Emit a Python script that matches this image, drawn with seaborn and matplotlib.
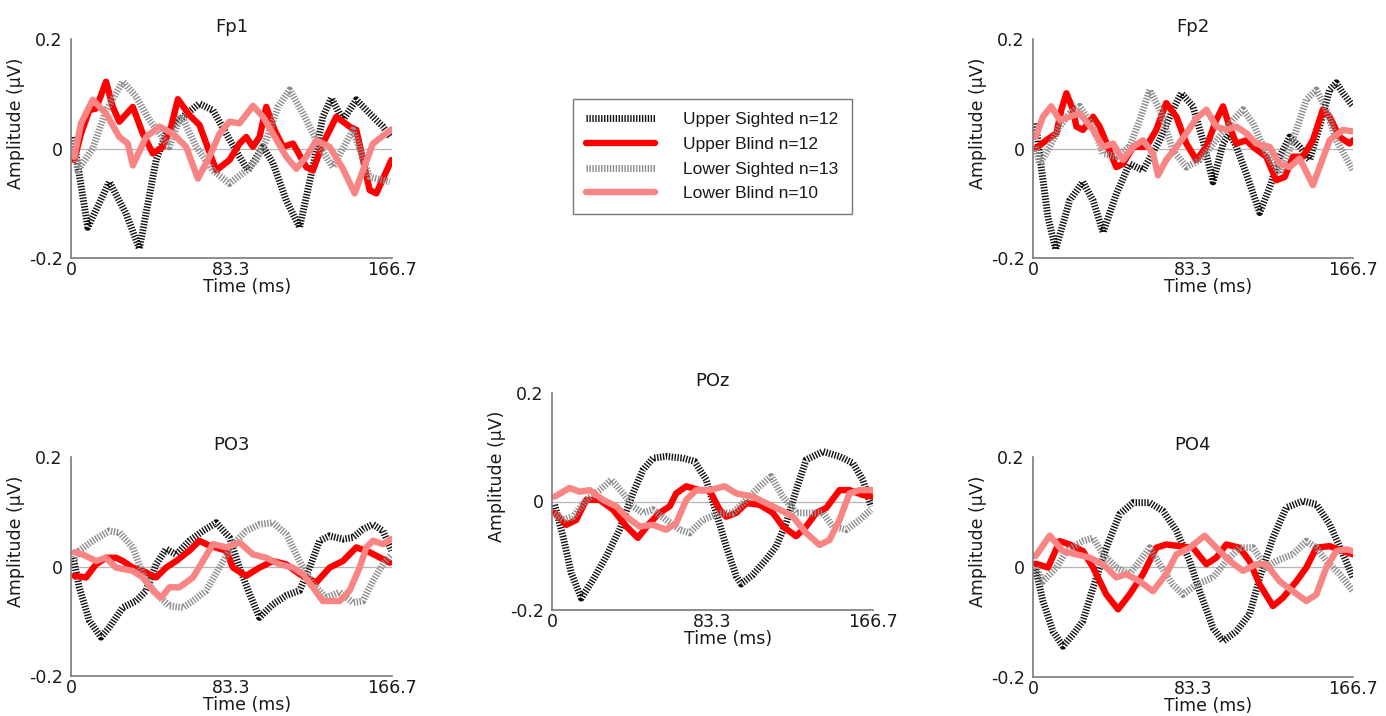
import matplotlib
matplotlib.use("Agg")
import matplotlib.pyplot as plt
from matplotlib.lines import Line2D
import seaborn as sns

# ---------------- data (time in ms, amplitude in microvolts) ----------------
# Fp1
FP1_US_T = [1.2, 8.7, 19.9, 28.6, 35.5, 44.2, 49.4, 58.1, 66.7, 73.7, 80.6, 87.5, 91.9, 99.7, 104.9, 111.8, 118.7, 125.6, 130.8, 135.2, 141.2, 148.2, 155.1, 162.0, 165.9]
FP1_US_V = [0.021, -0.144, -0.061, -0.119, -0.183, -0.021, 0.027, 0.058, 0.082, 0.070, 0.027, -0.015, -0.040, 0.003, -0.027, -0.095, -0.144, -0.034, 0.058, 0.092, 0.052, 0.089, 0.064, 0.040, 0.021]
FP1_UB_T = [1.7, 5.2, 9.5, 13.0, 18.2, 21.7, 25.1, 32.1, 37.3, 42.5, 47.7, 52.0, 55.5, 61.5, 66.7, 75.4, 82.3, 87.5, 91.0, 94.5, 97.9, 101.4, 105.7, 110.1, 115.3, 122.2, 125.6, 130.8, 137.8, 144.7, 148.2, 155.1, 158.6, 166.4]
FP1_UB_V = [-0.021, 0.027, 0.070, 0.073, 0.122, 0.076, 0.049, 0.076, 0.027, -0.009, 0.003, 0.040, 0.090, 0.061, 0.043, -0.040, -0.021, 0.009, 0.021, 0.003, 0.021, 0.076, 0.034, 0.003, 0.009, -0.034, -0.040, 0.009, 0.058, 0.040, 0.034, -0.076, -0.082, -0.021]
FP1_LS_T = [1.2, 3.5, 11.3, 18.2, 26.9, 33.8, 40.7, 51.1, 57.2, 65.0, 73.7, 82.3, 91.0, 96.2, 101.4, 107.5, 113.5, 120.5, 129.1, 136.0, 146.4, 155.1, 165.5]
FP1_LS_V = [0.015, -0.040, 0.000, 0.070, 0.122, 0.095, 0.052, 0.003, 0.061, 0.003, -0.040, -0.064, -0.040, -0.021, 0.015, 0.076, 0.107, 0.064, 0.003, -0.034, 0.034, -0.052, -0.061]
FP1_LB_T = [1.7, 5.2, 11.3, 18.2, 25.1, 29.5, 32.1, 39.0, 45.9, 52.9, 59.8, 65.9, 71.9, 77.1, 82.3, 87.5, 94.5, 99.7, 104.9, 111.8, 117.0, 122.2, 127.4, 134.3, 141.2, 147.3, 151.6, 156.8, 166.4]
FP1_LB_V = [-0.015, 0.046, 0.089, 0.064, 0.021, 0.009, -0.031, 0.021, 0.040, 0.027, 0.003, -0.055, -0.015, 0.027, 0.049, 0.046, 0.078, 0.058, 0.027, -0.015, -0.037, -0.015, 0.015, 0.003, -0.037, -0.082, -0.040, 0.009, 0.035]

# Fp2
FP2_US_T = [1.4, 4.3, 7.8, 11.8, 19.1, 26.0, 31.3, 36.5, 43.4, 50.3, 57.3, 66.0, 72.9, 77.3, 83.3, 88.5, 93.8, 99.0, 102.4, 105.9, 111.1, 118.1, 123.3, 128.5, 133.7, 138.9, 144.1, 149.3, 154.5, 158.0, 161.5, 166.7]
FP2_US_V = [0.046, -0.034, -0.126, -0.184, -0.095, -0.061, -0.095, -0.153, -0.083, -0.028, -0.040, 0.015, 0.071, 0.101, 0.077, 0.015, -0.061, 0.009, 0.028, 0.003, -0.046, -0.117, -0.071, -0.015, 0.021, 0.003, -0.021, 0.040, 0.107, 0.120, 0.101, 0.077]
FP2_UB_T = [1.4, 6.9, 12.2, 14.8, 17.4, 20.8, 22.6, 26.0, 31.3, 34.7, 39.1, 43.4, 46.9, 52.1, 59.0, 64.2, 69.4, 74.7, 79.9, 85.1, 90.3, 95.5, 99.0, 102.4, 105.9, 111.1, 114.6, 121.5, 126.7, 131.1, 135.4, 140.6, 145.8, 151.0, 154.5, 159.7, 164.9, 166.7]
FP2_UB_V = [0.000, 0.015, 0.028, 0.071, 0.101, 0.071, 0.040, 0.034, 0.058, 0.040, 0.003, -0.034, -0.028, 0.003, 0.003, 0.034, 0.083, 0.058, 0.009, -0.021, 0.003, 0.052, 0.077, 0.040, 0.009, 0.015, 0.003, -0.015, -0.058, -0.052, -0.015, -0.015, 0.015, 0.071, 0.058, 0.021, 0.009, 0.015]
FP2_LS_T = [1.4, 3.5, 8.7, 13.9, 19.1, 24.3, 31.3, 36.5, 43.4, 50.3, 55.6, 60.8, 66.0, 72.9, 79.9, 86.8, 95.5, 104.2, 109.4, 114.6, 121.5, 128.5, 135.4, 142.4, 147.6, 152.8, 158.0, 166.7]
FP2_LS_V = [0.003, -0.028, 0.003, 0.040, 0.064, 0.077, 0.040, -0.009, -0.015, 0.003, 0.052, 0.107, 0.071, -0.003, -0.034, -0.021, 0.015, 0.052, 0.071, 0.046, -0.009, -0.046, 0.015, 0.089, 0.107, 0.071, 0.015, -0.040]
FP2_LB_T = [1.4, 5.2, 9.5, 13.9, 19.1, 24.3, 31.3, 36.5, 41.7, 46.9, 52.1, 57.3, 62.5, 65.1, 69.4, 74.7, 79.9, 85.1, 90.3, 95.5, 100.7, 105.9, 111.1, 116.3, 123.3, 128.5, 133.7, 138.9, 145.8, 149.3, 154.5, 161.5, 166.7]
FP2_LB_V = [0.021, 0.058, 0.077, 0.052, 0.058, 0.064, 0.034, 0.003, 0.009, -0.021, 0.003, 0.015, -0.009, -0.049, -0.021, 0.003, 0.028, 0.055, 0.071, 0.040, 0.034, 0.040, 0.028, 0.009, 0.003, -0.028, -0.034, -0.018, -0.067, -0.034, 0.015, 0.034, 0.031]

# PO3
PO3_US_T = [1.2, 4.3, 9.5, 15.6, 19.9, 26.9, 33.8, 39.0, 44.2, 49.4, 54.6, 61.5, 68.5, 75.4, 82.3, 87.5, 92.7, 97.9, 104.9, 111.8, 118.7, 123.9, 129.1, 134.3, 141.2, 146.4, 151.6, 156.8, 162.0, 166.4]
PO3_US_V = [0.016, -0.038, -0.099, -0.129, -0.111, -0.075, -0.063, -0.044, 0.004, 0.032, 0.022, 0.047, 0.065, 0.080, 0.053, -0.002, -0.050, -0.093, -0.069, -0.053, -0.044, -0.002, 0.047, 0.056, 0.050, 0.053, 0.068, 0.077, 0.065, 0.029]
PO3_UB_T = [1.7, 7.8, 13.0, 18.2, 23.4, 26.9, 32.1, 37.3, 44.2, 49.4, 54.6, 61.5, 66.7, 71.9, 80.6, 84.1, 91.0, 97.9, 104.9, 111.8, 118.7, 127.4, 134.3, 141.2, 148.2, 155.1, 165.5]
PO3_UB_V = [-0.017, -0.020, 0.004, 0.016, 0.016, 0.010, -0.002, -0.008, -0.020, -0.002, 0.010, 0.029, 0.047, 0.038, 0.029, -0.002, -0.017, -0.002, 0.010, 0.004, -0.014, -0.029, -0.002, 0.010, 0.035, 0.026, 0.007]
PO3_LS_T = [1.2, 4.3, 11.3, 19.9, 25.1, 32.1, 37.3, 44.2, 51.1, 58.1, 63.3, 70.2, 77.1, 84.1, 91.0, 97.9, 104.9, 111.8, 118.7, 125.6, 132.6, 139.5, 146.4, 151.6, 156.8, 162.0, 166.4]
PO3_LS_V = [0.010, 0.029, 0.047, 0.065, 0.062, 0.035, -0.014, -0.050, -0.072, -0.075, -0.063, -0.044, -0.002, 0.041, 0.065, 0.077, 0.080, 0.059, 0.010, -0.032, -0.057, -0.047, -0.066, -0.063, -0.026, 0.004, 0.022]
PO3_LB_T = [1.7, 6.1, 13.0, 18.2, 23.4, 32.1, 37.3, 42.5, 46.8, 51.1, 56.3, 63.3, 68.5, 73.7, 80.6, 87.5, 94.5, 101.4, 108.3, 115.3, 120.5, 125.6, 130.8, 139.5, 144.7, 149.9, 153.4, 156.8, 162.0, 166.4]
PO3_LB_V = [0.026, 0.022, 0.010, 0.016, -0.002, -0.008, -0.020, -0.044, -0.057, -0.038, -0.038, -0.020, 0.010, 0.041, 0.035, 0.044, 0.022, 0.016, 0.004, -0.002, -0.014, -0.038, -0.063, -0.063, -0.044, -0.002, 0.035, 0.047, 0.041, 0.050]

# POz
POZ_US_T = [1.4, 5.7, 10.0, 15.2, 21.3, 28.2, 35.1, 42.0, 47.2, 52.4, 59.3, 68.0, 74.0, 80.1, 85.3, 90.5, 95.7, 98.3, 104.3, 111.2, 116.4, 121.6, 126.8, 132.0, 140.7, 149.3, 156.2, 161.4, 165.7]
POZ_US_V = [-0.006, -0.064, -0.132, -0.178, -0.144, -0.101, -0.052, 0.015, 0.058, 0.080, 0.083, 0.080, 0.074, 0.040, -0.021, -0.083, -0.138, -0.152, -0.135, -0.107, -0.083, -0.040, 0.021, 0.077, 0.092, 0.083, 0.071, 0.040, -0.009]
POZ_UB_T = [1.4, 7.4, 12.6, 17.8, 24.7, 31.7, 38.6, 44.6, 50.7, 55.9, 61.1, 64.5, 69.7, 76.6, 81.8, 87.0, 90.5, 95.7, 101.0, 107.8, 114.7, 119.9, 126.8, 132.0, 137.2, 142.4, 149.3, 154.5, 161.4, 166.3]
POZ_UB_V = [-0.021, -0.043, -0.034, 0.003, 0.003, -0.015, -0.046, -0.067, -0.040, -0.021, -0.009, 0.015, 0.028, 0.021, 0.021, -0.015, -0.028, -0.021, -0.003, -0.006, -0.021, -0.046, -0.064, -0.046, -0.021, -0.012, 0.021, 0.021, 0.012, 0.009]
POZ_LS_T = [1.4, 5.7, 10.9, 17.8, 24.7, 30.8, 36.9, 42.0, 47.2, 52.4, 59.3, 66.3, 71.5, 78.4, 87.0, 93.9, 101.0, 107.8, 113.8, 119.9, 126.8, 133.7, 140.7, 145.8, 152.8, 159.7, 165.7]
POZ_LS_V = [-0.021, -0.034, -0.028, 0.003, 0.021, 0.040, 0.015, -0.009, -0.021, -0.015, -0.034, -0.052, -0.058, -0.034, -0.021, -0.021, 0.003, 0.028, 0.046, 0.009, -0.021, -0.021, -0.021, -0.046, -0.052, -0.034, -0.015]
POZ_LB_T = [1.4, 9.2, 14.4, 19.6, 26.5, 33.4, 38.6, 45.5, 52.4, 59.3, 64.5, 69.7, 74.9, 81.8, 89.6, 95.7, 104.3, 111.2, 118.2, 125.1, 132.0, 138.9, 144.1, 149.3, 154.5, 159.7, 166.3]
POZ_LB_V = [0.009, 0.025, 0.018, 0.021, 0.003, -0.009, -0.028, -0.046, -0.043, -0.052, -0.040, 0.003, 0.021, 0.021, 0.028, 0.015, 0.009, -0.003, -0.015, -0.028, -0.058, -0.080, -0.071, -0.034, 0.015, 0.021, 0.021]

# PO4
PO4_US_T = [1.4, 5.2, 10.4, 15.6, 20.8, 26.0, 31.3, 38.2, 45.1, 52.1, 60.8, 67.7, 74.7, 81.6, 86.8, 93.8, 99.0, 105.9, 112.8, 118.1, 125.0, 131.9, 140.6, 147.6, 154.5, 161.5, 166.7]
PO4_US_V = [-0.004, -0.062, -0.117, -0.144, -0.123, -0.098, -0.038, 0.035, 0.096, 0.117, 0.117, 0.102, 0.066, 0.011, -0.044, -0.111, -0.135, -0.117, -0.086, -0.019, 0.053, 0.108, 0.120, 0.114, 0.078, 0.023, -0.019]
PO4_UB_T = [1.4, 7.8, 13.9, 19.1, 26.0, 31.3, 38.2, 44.3, 50.3, 57.3, 64.2, 69.4, 76.4, 83.3, 90.3, 95.5, 100.7, 107.6, 112.8, 118.1, 125.0, 130.2, 137.2, 142.4, 147.6, 154.5, 161.5, 166.7]
PO4_UB_V = [0.006, -0.001, 0.047, 0.041, 0.029, -0.001, -0.050, -0.077, -0.050, -0.013, 0.035, 0.041, 0.038, 0.035, 0.005, 0.017, 0.041, 0.035, 0.011, -0.032, -0.071, -0.056, -0.026, -0.001, 0.035, 0.038, 0.029, 0.023]
PO4_LS_T = [1.4, 5.2, 12.2, 17.4, 26.0, 31.3, 36.5, 43.4, 50.3, 55.6, 60.8, 66.0, 72.9, 78.1, 85.1, 93.8, 100.7, 107.6, 114.6, 121.5, 126.7, 135.4, 142.4, 147.6, 152.8, 159.7, 166.7]
PO4_LS_V = [-0.001, -0.026, -0.001, 0.029, 0.047, 0.053, 0.023, -0.001, -0.013, 0.011, 0.035, 0.005, -0.032, -0.050, -0.032, -0.019, 0.011, 0.035, 0.035, -0.001, 0.011, 0.023, 0.047, 0.035, 0.011, -0.013, -0.044]
PO4_LB_T = [1.4, 8.7, 15.6, 22.6, 29.5, 36.5, 43.4, 48.6, 55.6, 62.5, 69.4, 74.7, 81.6, 89.4, 95.5, 102.4, 109.4, 116.3, 121.5, 128.5, 135.4, 142.4, 147.6, 152.8, 158.0, 163.2, 166.7]
PO4_LB_V = [0.020, 0.057, 0.029, 0.023, 0.017, 0.005, -0.019, -0.013, -0.026, -0.044, -0.013, 0.023, 0.035, 0.057, 0.035, 0.011, -0.007, 0.005, 0.005, -0.026, -0.044, -0.062, -0.050, -0.001, 0.029, 0.032, 0.029]

GROUPS = ["Upper Sighted n=12", "Upper Blind n=12", "Lower Sighted n=13", "Lower Blind n=10"]
CHANNELS = ["Fp1", "Fp2", "PO3", "POz", "PO4"]
X_TICKS = [0, 83.35, 166.7]
X_TICKLABELS = ["0", "83.3", "166.7"]
Y_TICKS = [-0.2, 0, 0.2]
Y_TICKLABELS = ["-0.2", "0", "0.2"]

PANEL_DATA = {
    "Fp1": [(FP1_US_T, FP1_US_V), (FP1_UB_T, FP1_UB_V), (FP1_LS_T, FP1_LS_V), (FP1_LB_T, FP1_LB_V)],
    "Fp2": [(FP2_US_T, FP2_US_V), (FP2_UB_T, FP2_UB_V), (FP2_LS_T, FP2_LS_V), (FP2_LB_T, FP2_LB_V)],
    "PO3": [(PO3_US_T, PO3_US_V), (PO3_UB_T, PO3_UB_V), (PO3_LS_T, PO3_LS_V), (PO3_LB_T, PO3_LB_V)],
    "POz": [(POZ_US_T, POZ_US_V), (POZ_UB_T, POZ_UB_V), (POZ_LS_T, POZ_LS_V), (POZ_LB_T, POZ_LB_V)],
    "PO4": [(PO4_US_T, PO4_US_V), (PO4_UB_T, PO4_UB_V), (PO4_LS_T, PO4_LS_V), (PO4_LB_T, PO4_LB_V)],
}

# ---------------- styling ----------------
sns.set_theme(style="white")
plt.rcParams["font.family"] = ["DejaVu Sans"]

STYLES = [
    dict(color="#111111", linewidth=5.0, linestyle=(0, (0.2, 0.22)), dash_capstyle="butt"),
    dict(color="#ff0000", linewidth=4.6, linestyle="-", solid_capstyle="round", solid_joinstyle="round"),
    dict(color="#8c8c8c", linewidth=5.0, linestyle=(0, (0.2, 0.22)), dash_capstyle="butt"),
    dict(color="#f88484", linewidth=4.6, linestyle="-", solid_capstyle="round", solid_joinstyle="round"),
]

W, H = 1386, 716
fig = plt.figure(figsize=(W / 100, H / 100), dpi=100)

# axes boxes in pixels: left, right, top, bottom
BOXES = {
    "Fp1": (71, 392, 39, 258),
    "Fp2": (1033, 1353, 39, 258),
    "PO3": (71, 392, 457, 676),
    "POz": (552, 873, 393, 610),
    "PO4": (1033, 1353, 457, 677),
}

SPINE = "#7a7a7a"
TXT = "#1a1a1a"

for ch in CHANNELS:
    l, r, t, b = BOXES[ch]
    ax = fig.add_axes([l / W, (H - b) / H, (r - l) / W, (b - t) / H])
    ax.axhline(0, color="#b5b5b5", linewidth=0.9, zorder=0)
    for (tt, vv), st in zip(PANEL_DATA[ch], STYLES):
        sns.lineplot(x=tt, y=vv, ax=ax, sort=False, **st)
    ax.set_xlim(0, 166.7)
    ax.set_ylim(-0.2, 0.2)
    ax.set_xticks(X_TICKS)
    ax.set_xticklabels(X_TICKLABELS)
    ax.set_yticks(Y_TICKS)
    ax.set_yticklabels(Y_TICKLABELS)
    ax.tick_params(axis="both", labelsize=12.5, colors=SPINE, labelcolor=TXT,
                   length=4, width=1, pad=2)
    ax.tick_params(axis="x", direction="in")
    for s in ["top", "right"]:
        ax.spines[s].set_visible(False)
    for s in ["left", "bottom"]:
        ax.spines[s].set_color(SPINE)
        ax.spines[s].set_linewidth(1.2)
    ax.set_xlabel("Time (ms)", fontsize=12.5, color=TXT)
    ax.set_ylabel("Amplitude (μV)", fontsize=12.5, color=TXT)
    ax.xaxis.set_label_coords(0.548, -0.093)
    ax.yaxis.set_label_coords(-0.143, 0.615)
    ax.set_title(ch, fontsize=13, color=TXT, pad=5)
    ax.set_facecolor("none")

handles = [Line2D([0], [0], **st) for st in STYLES]
leg = fig.legend(handles, GROUPS, loc="upper left",
                 bbox_to_anchor=(573 / W, 1 - 99 / H),
                 frameon=True, fancybox=False,
                 handlelength=4.0, handletextpad=1.6, borderpad=0.75,
                 labelspacing=0.55, borderaxespad=0,
                 prop={"family": "Liberation Sans", "size": 12.5})
leg.get_frame().set_edgecolor("#555555")
leg.get_frame().set_linewidth(1.0)
for txt in leg.get_texts():
    txt.set_color(TXT)

fig.savefig("out.png", dpi=100, facecolor="white")
